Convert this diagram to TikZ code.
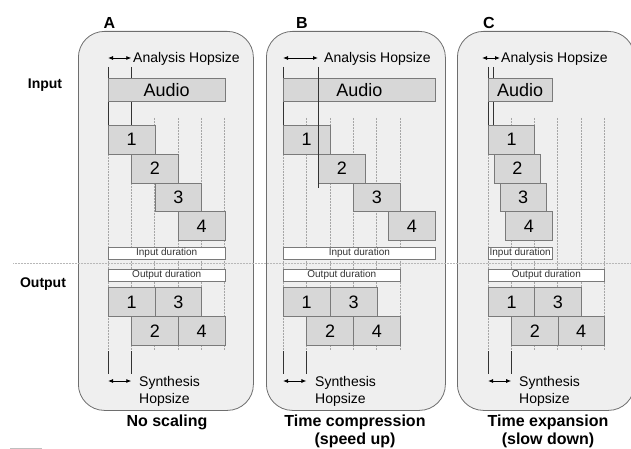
\documentclass[tikz,border=0pt]{standalone}
\usepackage{fontspec}
\setmainfont{Liberation Sans}
\usetikzlibrary{arrows.meta}
\definecolor{panelfill}{HTML}{EFEFEF}
\definecolor{panelline}{HTML}{6E6E6E}
\definecolor{boxfill}{HTML}{D7D7D7}
\definecolor{boxline}{HTML}{7A7A7A}
\definecolor{gridline}{HTML}{A6A6A6}
\definecolor{hopline}{HTML}{333333}

\begin{document}
\begin{tikzpicture}[x=1pt,y=-1pt]
        \tikzset{panel/.style = {draw=panelline,fill=panelfill,line width=0.8pt,rounded corners=26pt,inner sep=0pt,anchor=north west}}
        \tikzset{frame/.style = {draw=boxline,fill=boxfill,line width=0.7pt,inner sep=0pt,anchor=north west,minimum height=28.75pt,font=\fontsize{18}{18}\selectfont}}
        \tikzset{audio/.style = {frame,minimum height=23pt}}
        \tikzset{dur/.style = {draw=boxline,fill=white,line width=0.7pt,inner sep=0pt,anchor=north west,minimum height=11.5pt,text=black!80,font=\fontsize{10}{10}\selectfont}}
        \tikzset{hop/.style = {draw=hopline,line width=0.8pt}}
        \tikzset{grid/.style = {draw=gridline,densely dotted,line width=0.5pt}}
        \tikzset{hoparrow/.style = {draw=black,line width=0.8pt,{Latex[length=5pt,width=4pt]}-{Latex[length=5pt,width=4pt]}}}
        \tikzset{lbl/.style = {inner sep=0pt,align=left,anchor=base west,font=\fontsize{14}{17}\selectfont}}
        \tikzset{title/.style = {inner sep=0pt,align=center,anchor=base,font=\fontsize{16}{18.5}\bfseries\selectfont}}
        \tikzset{side/.style = {inner sep=0pt,anchor=base,font=\fontsize{14}{14}\bfseries\selectfont}}
        \clip (0,0) rectangle (631,449);
        \useasboundingbox (0,0) rectangle (631,449);
        % panels
        \node[panel,minimum width=175pt,minimum height=379pt] (pA) at (78,31) {};
        \node[panel,minimum width=179pt,minimum height=379pt] (pB) at (266,31) {};
        \node[panel,minimum width=177pt,minimum height=379pt] (pC) at (457,31) {};
        \node[side,font=\fontsize{16}{16}\bfseries\selectfont] (lA) at (109.5,29) {A};
        \node[side,font=\fontsize{16}{16}\bfseries\selectfont] (lB) at (302,29) {B};
        \node[side,font=\fontsize{16}{16}\bfseries\selectfont] (lC) at (489,29) {C};
        \node[side] (in) at (45,89) {Input};
        \node[side] (out) at (43,287) {Output};
        % grid
        \foreach \x in {108,131.3,154.7,178,201.3,224.7} \draw[grid] (\x,118) -- (\x,350);
        \foreach \x in {283,306.4,329.8,353.2,376.6,400} \draw[grid] (\x,118) -- (\x,350);
        \foreach \x in {488,511.2,534.4,557.6,580.8,604} \draw[grid] (\x,118) -- (\x,350);
        % hop lines
        \draw[hop] (108,67) -- (108,125);
        \draw[hop] (131.3,67) -- (131.3,125);
        \draw[hop] (108,351) -- (108,374);
        \draw[hop] (131.3,351) -- (131.3,374);
        \draw[hop] (283,67) -- (283,125);
        \draw[hop] (283,351) -- (283,374);
        \draw[hop] (306.4,351) -- (306.4,374);
        \draw[hop] (488,67) -- (488,125);
        \draw[hop] (493.75,67) -- (493.75,125);
        \draw[hop] (488,351) -- (488,374);
        \draw[hop] (511.2,351) -- (511.2,374);
        % A: no scaling
        \node[audio,minimum width=116.7pt] (audA) at (108,78) {Audio};
        \node[frame,minimum width=46.7pt] (ia1) at (108,125) {1};
        \node[frame,minimum width=46.7pt] (ia2) at (131.3,153.75) {2};
        \node[frame,minimum width=46.7pt] (ia3) at (154.7,182.5) {3};
        \node[frame,minimum width=46.7pt] (ia4) at (178,211.25) {4};
        \node[dur,minimum width=116.7pt] (idA) at (108,247) {Input duration};
        \node[dur,minimum width=116.7pt,minimum height=12pt] (odA) at (108,269) {Output duration};
        \node[frame,minimum width=46.7pt,minimum height=29pt] (oa1) at (108,287) {1};
        \node[frame,minimum width=46.7pt,minimum height=29pt] (oa3) at (154.7,287) {3};
        \node[frame,minimum width=46.7pt,minimum height=29pt] (oa2) at (131.3,316) {2};
        \node[frame,minimum width=46.7pt,minimum height=29pt] (oa4) at (178,316) {4};
        % B: time compression
        \node[audio,minimum width=152pt] (audB) at (283,78) {Audio};
        \node[frame,minimum width=46.8pt] (ib1) at (283,125) {1};
        \node[frame,minimum width=46.8pt] (ib2) at (318,153.75) {2};
        \node[frame,minimum width=46.8pt] (ib3) at (353,182.5) {3};
        \node[frame,minimum width=46.8pt] (ib4) at (388,211.25) {4};
        \node[dur,minimum width=152pt] (idB) at (283,247) {Input duration};
        \node[dur,minimum width=117pt,minimum height=12pt] (odB) at (283,269) {Output duration};
        \node[frame,minimum width=46.8pt,minimum height=29pt] (ob1) at (283,287) {1};
        \node[frame,minimum width=46.8pt,minimum height=29pt] (ob3) at (329.8,287) {3};
        \node[frame,minimum width=46.8pt,minimum height=29pt] (ob2) at (306.4,316) {2};
        \node[frame,minimum width=46.8pt,minimum height=29pt] (ob4) at (353.2,316) {4};
        \draw[hop] (318,67) -- (318,188);
        % C: time expansion
        \node[audio,minimum width=63.7pt] (audC) at (488,78) {Audio};
        \node[frame,minimum width=46.4pt] (ic1) at (488,125) {1};
        \node[frame,minimum width=46.4pt] (ic2) at (493.75,153.75) {2};
        \node[frame,minimum width=46.4pt] (ic3) at (499.5,182.5) {3};
        \node[frame,minimum width=46.4pt] (ic4) at (505.25,211.25) {4};
        \node[dur,minimum width=63.7pt] (idC) at (488,247) {Input duration};
        \node[dur,minimum width=116pt,minimum height=12pt] (odC) at (488,269) {Output duration};
        \node[frame,minimum width=46.4pt,minimum height=29pt] (oc1) at (488,287) {1};
        \node[frame,minimum width=46.4pt,minimum height=29pt] (oc3) at (534.4,287) {3};
        \node[frame,minimum width=46.4pt,minimum height=29pt] (oc2) at (511.2,316) {2};
        \node[frame,minimum width=46.4pt,minimum height=29pt] (oc4) at (557.6,316) {4};
        % hop arrows
        \coordinate (haA1) at (108,58);
        \coordinate (haA2) at (131.3,58);
        \coordinate (haB1) at (283,58);
        \coordinate (haB2) at (318,58);
        \coordinate (haC1) at (482,58);
        \coordinate (haC2) at (500,58);
        \coordinate (hsA1) at (108,381);
        \coordinate (hsA2) at (131.3,381);
        \coordinate (hsB1) at (283,381);
        \coordinate (hsB2) at (306.4,381);
        \coordinate (hsC1) at (488,381);
        \coordinate (hsC2) at (511.2,381);
        \draw[hoparrow] (haA1) -- (haA2);
        \draw[hoparrow] (haB1) -- (haB2);
        \draw[hoparrow] (haC1) -- (haC2);
        \draw[hoparrow] (hsA1) -- (hsA2);
        \draw[hoparrow] (hsB1) -- (hsB2);
        \draw[hoparrow] (hsC1) -- (hsC2);
        \node[lbl] (anA) at (133,63) {Analysis Hopsize};
        \node[lbl] (anB) at (324,63) {Analysis Hopsize};
        \node[lbl] (anC) at (501,63) {Analysis Hopsize};
        \node[lbl] (syA) at (139,403) {Synthesis\\Hopsize};
        \node[lbl] (syB) at (315,403) {Synthesis\\Hopsize};
        \node[lbl] (syC) at (519,403) {Synthesis\\Hopsize};
        \node[title] (tA) at (167,426) {No scaling};
        \node[title] (tB) at (355,444.5) {Time compression\\(speed up)};
        \node[title] (tC) at (548,444.5) {Time expansion\\(slow down)};
        % divider
        \draw[grid,draw=gridline!80] (13,263) -- (631,263);
        \draw[draw=black!25,line width=0.8pt] (10,448) -- (42,448);
\end{tikzpicture}
\end{document}
